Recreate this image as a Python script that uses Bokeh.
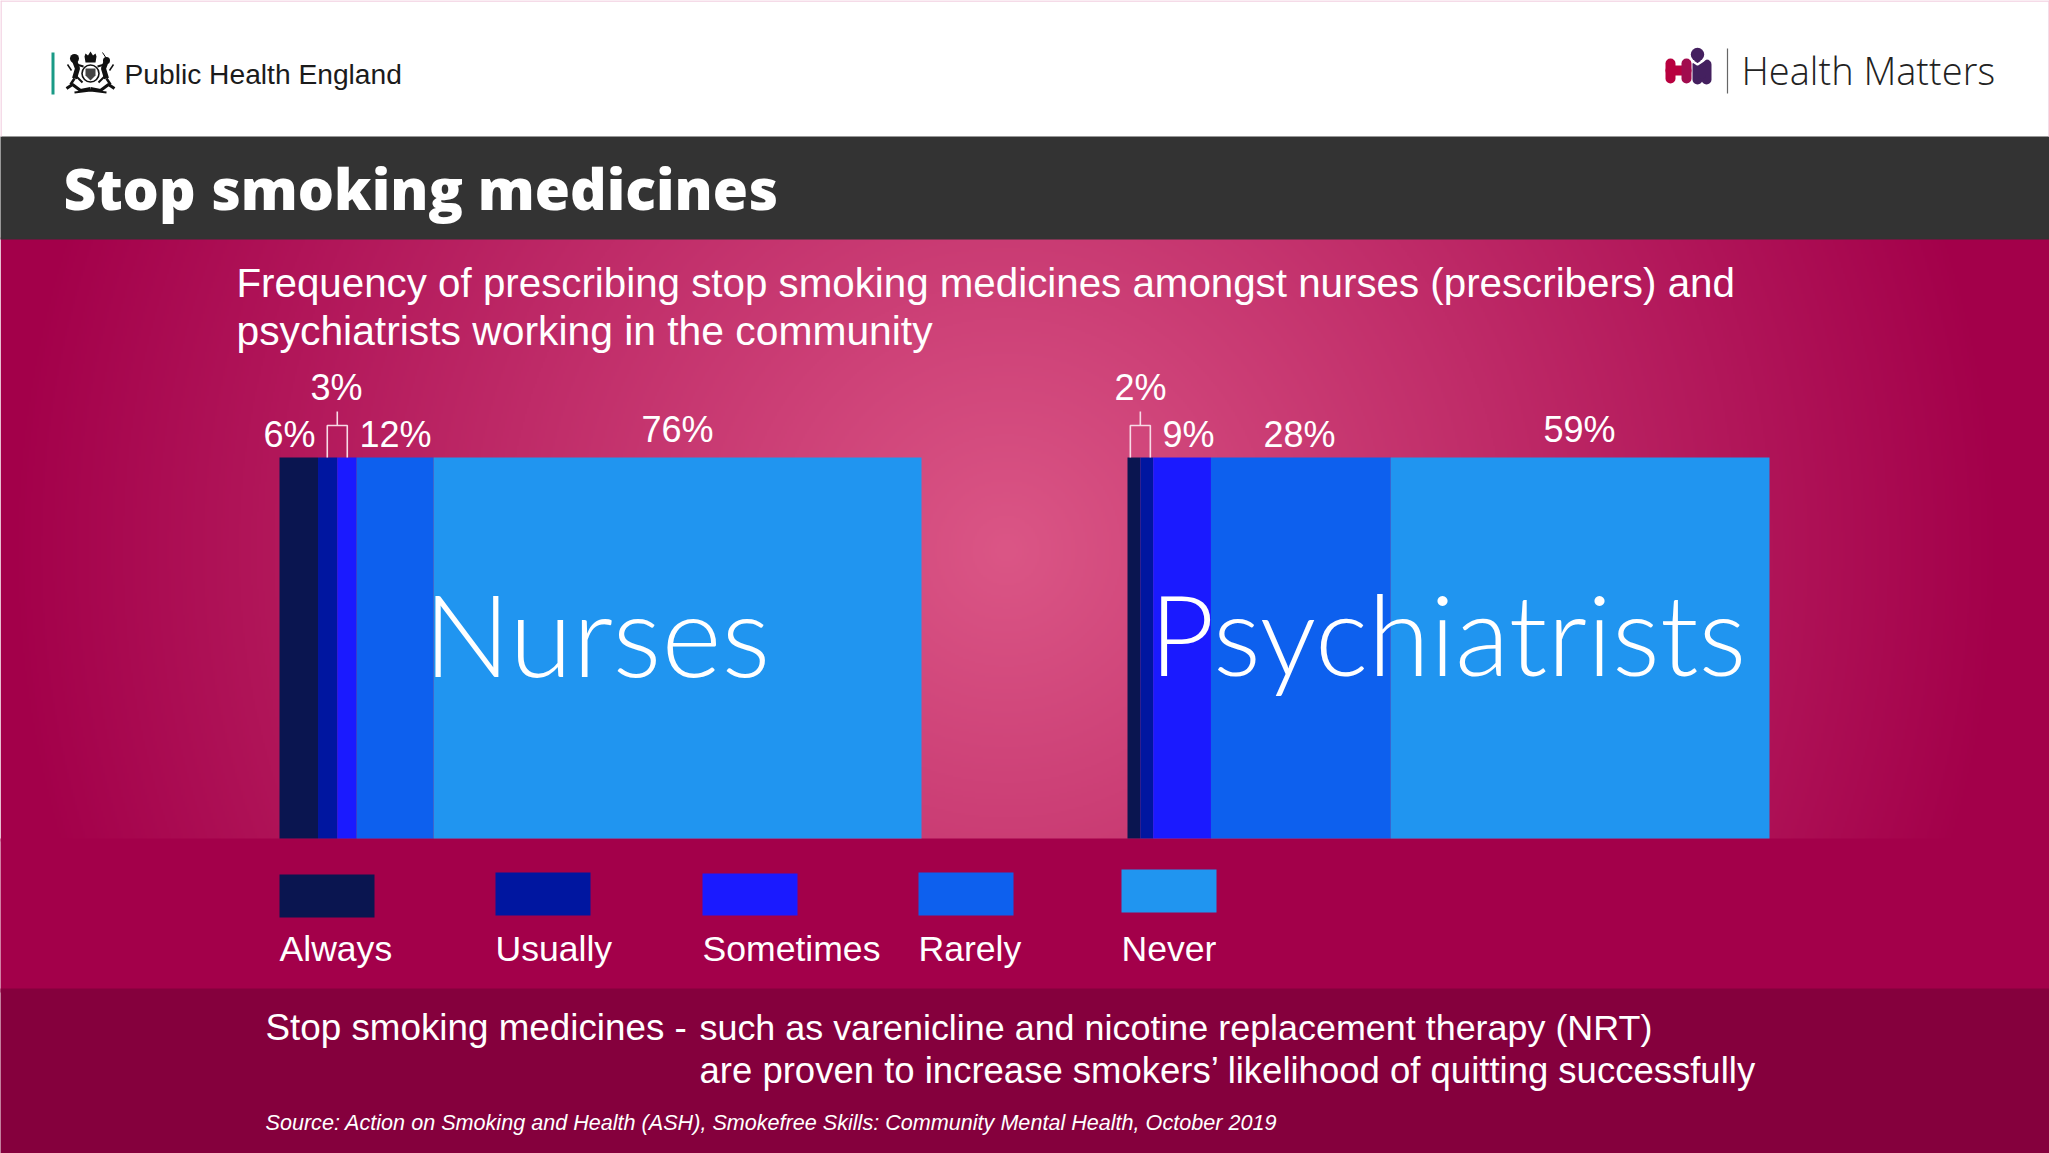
import numpy as np
from bokeh.plotting import figure
from bokeh.embed import file_html
from bokeh.resources import INLINE
from bokeh.models import Range1d
from bokeh.core.properties import value

# ---- data ----
categories = ["Always", "Usually", "Sometimes", "Rarely", "Never"]
nurses = [6, 3, 3, 12, 76]
psychiatrists = [2, 2, 9, 28, 59]
colors = ["#0a1550", "#0016a0", "#1a1aff", "#0d60ee", "#2095f0"]
nurse_labels = ["6%", "3%", "12%", "76%"]
psych_labels = ["2%", "9%", "28%", "59%"]

# ---- layout (pixels) ----
W, H = 2049, 1153
BAR_TOP, BAR_BOTTOM = 457, 838
PX_PER_PCT = 6.42
NURSE_X0, PSYCH_X0 = 279, 1127
nurse_label_xy = [(289, 447), (336, 400), (395, 447), (677, 442)]
psych_label_xy = [(1140, 400), (1188, 447), (1299, 447), (1579, 442)]
legend_x = [279, 495, 702, 918, 1121]
legend_w = 95
legend_y = [(874, 917), (872, 915), (873, 915), (872, 915), (869, 912)]
SANS = "Liberation Sans"
BASE_FIX = 0.35  # svg text sits this many ems below the requested baseline

p = figure(width=W, height=H, output_backend="svg", toolbar_location=None,
           x_range=Range1d(0, W), y_range=Range1d(H, 0),
           min_border=0, outline_line_color=None, background_fill_color="white")
p.axis.visible = False
p.grid.visible = False
p.styles = {"position": "absolute", "left": "0px", "top": "0px"}


def label(x, y, s, size, color="white", font=SANS, align="left", style="normal"):
    p.text([x], [y - BASE_FIX * size], text=[s], text_font=value(font), text_font_size=f"{size}px",
           text_color=color, text_align=align, text_baseline="alphabetic",
           text_font_style=style)


def box(x0, x1, y0, y1, color):
    p.quad(left=[x0], right=[x1], top=[y0], bottom=[y1], fill_color=color, line_color=None)


# ---- backgrounds: gradient first, solid bands overlap its edges ----
gx = np.arange(0, W, 2) + 1.0
gy = np.arange(237, 841, 2) + 1.0
xx, yy = np.meshgrid(gx, gy)
t = np.clip(np.hypot(xx - 1006, yy - 550) / 1000.0, 0, 1)
c0, c1 = np.array([0xdb, 0x56, 0x86]), np.array([0xa3, 0x00, 0x4a])
img = np.zeros(xx.shape, dtype=np.uint32)
v = img.view(dtype=np.uint8).reshape((*xx.shape, 4))
for k in range(3):
    v[..., k] = (c0[k] + (c1[k] - c0[k]) * t).astype(np.uint8)
v[..., 3] = 255
p.image_rgba(image=[img], x=0, y=237, dw=W, dh=604)
box(-2, W + 2, 838, 992, "#a3004a")
box(-2, W + 2, 988, H + 2, "#85003d")
box(-2, W + 2, 136, 239, "#333333")

# page hairlines
p.line([0.5, 0.5], [0, 136], line_color="#f2cfe0", line_width=1.5)
p.line([W - 0.5, W - 0.5], [0, 136], line_color="#f2cfe0", line_width=1.5)
p.line([0, W], [0.5, 0.5], line_color="#f2cfe0", line_width=1.5)

# ---- stacked bars ----
for vals, x0 in ((nurses, NURSE_X0), (psychiatrists, PSYCH_X0)):
    cum = np.cumsum([0] + vals) * PX_PER_PCT + x0
    p.quad(left=cum[:-1], right=cum[1:], top=BAR_TOP, bottom=BAR_BOTTOM,
           fill_color=colors, line_color=None)

# brackets for the thin segments
for stem_pct, x0 in ((nurses[0] + nurses[1], NURSE_X0), (psychiatrists[0], PSYCH_X0)):
    sx = x0 + stem_pct * PX_PER_PCT
    p.multi_line([[sx - 10, sx - 10, sx + 10, sx + 10], [sx, sx]],
                 [[BAR_TOP, 425, 425, BAR_TOP], [425, 411]],
                 line_color="#f7dbe6", line_width=1.6)

for txt, (x, y) in zip(nurse_labels + psych_labels, nurse_label_xy + psych_label_xy):
    label(x, y, txt, 36, align="center")

label(423, 672, "Nurses", 115, font="Lato Light")
label(1149, 671, "Psychiatrists", 112.5, font="Lato Light")

# ---- legend ----
for name, c, x, (y0, y1) in zip(categories, colors, legend_x, legend_y):
    box(x, x + legend_w, y0, y1, c)
    label(x, 961, name, 35.6)

# ---- titles & text ----
label(63, 207, "Stop smoking medicines", 57, font="Open Sans ExtraBold")
label(236, 297, "Frequency of prescribing stop smoking medicines amongst nurses (prescribers) and", 40.3)
label(236, 345, "psychiatrists working in the community", 40.8)
label(265, 1040, "Stop smoking medicines -", 36.8)
label(699, 1040, "such as varenicline and nicotine replacement therapy (NRT)", 35.9)
label(699, 1083, "are proven to increase smokers\u2019 likelihood of quitting successfully", 36.5)
label(265, 1130, "Source: Action on Smoking and Health (ASH), Smokefree Skills: Community Mental Health, October 2019",
      21.6, style="italic")

# ---- Public Health England mark ----
box(51, 54, 52, 94, "#1a9a86")
label(124, 83, "Public Health England", 28.2, color="#1b1b1b")
ink = "#111111"
p.scatter([74, 106], [58, 60], size=[9, 7], marker="circle", fill_color=ink, line_color=None)
p.multi_line(
    [[74, 77, 74], [76, 83], [74, 70], [76, 82], [71, 67],
     [106, 103, 106], [104, 97], [106, 110], [104, 98], [109, 113], [106, 102]],
    [[60, 68, 78], [64, 66], [78, 84], [76, 82], [70, 64],
     [60, 68, 78], [64, 66], [78, 84], [76, 82], [70, 64], [58, 52]],
    line_color=ink,
    line_width=[5, 2, 2.5, 2, 1.5, 5, 2, 2.5, 2, 1.5, 1])
p.patches([[84, 85, 87.5, 90, 92.5, 95, 96, 95, 85]],
          [[56, 53, 55, 51, 55, 53, 56, 62, 62]], fill_color=ink, line_color=None)
p.scatter([90], [73], size=17, marker="circle", fill_color="white", line_color=ink, line_width=1.6)
p.patches([[85, 95, 95, 90, 85]], [[68, 68, 75, 80, 75]], fill_color="#444444", line_color=None)
p.multi_line([[66, 72, 80, 90], [90, 100, 108, 114], [74, 90, 106]],
             [[88, 84, 90, 88], [88, 90, 84, 88], [92, 90, 92]],
             line_color=ink, line_width=[3, 3, 2])

# ---- Health Matters mark ----
p.multi_line([[1670, 1670], [1670, 1686]], [[63, 78], [70, 70]], line_color="#b8003f", line_width=10, line_cap="round")
p.line([1686, 1686], [63, 78], line_color="#a10c4e", line_width=10, line_cap="round")
p.multi_line([[1697, 1697], [1706, 1706], [1701.5, 1701.5]], [[64, 79], [64, 79], [66, 74]],
             line_color="#44205f", line_width=[10, 10, 8], line_cap="round")
p.line([1691, 1697, 1703, 1709], [60, 64, 60, 55], line_color="white", line_width=2.2)
p.scatter([1697], [54], size=13.4, marker="circle", fill_color="#44205f", line_color=None)
p.line([1727, 1727], [48, 93], line_color="#666666", line_width=1.2)
label(1741, 83, "Health Matters", 38, color="#222222", font="Open Sans Light")

open("out.html", "w").write(file_html(p, INLINE))
